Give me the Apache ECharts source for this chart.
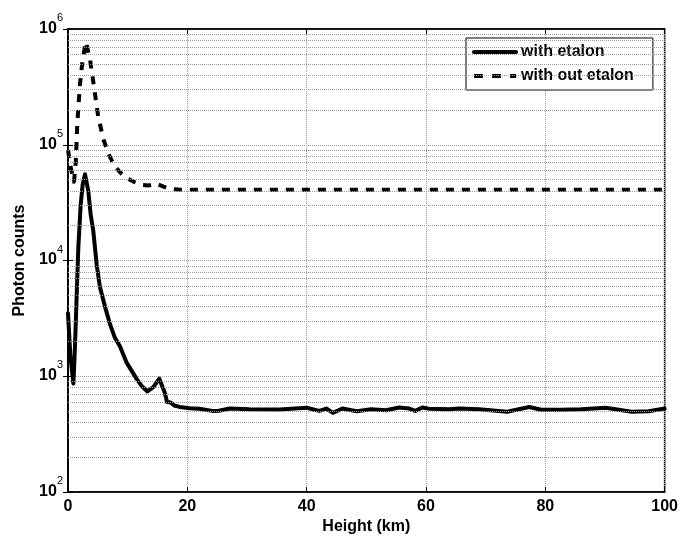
<!DOCTYPE html>
<html>
<head>
<meta charset="utf-8">
<script src="https://cdn.jsdelivr.net/npm/echarts@6/dist/echarts.min.js"></script>
<style>
  html, body { margin: 0; padding: 0; background: #fff; }
  #chart { width: 681px; height: 540px; }
</style>
</head>
<body>
<div id="chart"></div>
<script>
// Photon counts versus height, with and without the etalon in the receiver path.
const withEtalonKm = [0, 0.4, 0.9, 1.17, 1.45, 1.73, 2.12, 2.45, 2.85, 3.4, 3.8, 4.24, 4.8, 5.35, 6.2, 7.0, 7.86, 8.7, 9.8, 11.5, 12.4, 13.3, 14.3, 15.3, 16.2, 16.6, 17.2, 17.8, 18.7, 20.4, 22.0, 24.2, 25.3, 27.1, 30.4, 35.5, 40.0, 42.1, 43.3, 44.4, 46.0, 48.4, 50.8, 53.3, 55.5, 57.2, 58.2, 59.4, 60.5, 63.9, 65.6, 68.9, 73.6, 77.3, 79.3, 82.6, 86.0, 90.1, 94.5, 97.3, 100];
const withEtalonCounts = [3500, 1500, 865, 1820, 4900, 12900, 30000, 45000, 55600, 40000, 25000, 18000, 9300, 5900, 4000, 2870, 2150, 1820, 1320, 950, 820, 740, 805, 955, 730, 600, 595, 560, 544, 530, 525, 503, 505, 527, 520, 518, 535, 503, 527, 484, 527, 500, 520, 510, 538, 527, 503, 538, 525, 520, 527, 520, 495, 544, 515, 515, 520, 535, 495, 500, 527];

const withoutEtalonKm = [0, 0.5, 1.0, 1.3, 1.55, 2.0, 2.45, 3.0, 3.7, 4.35, 5.05, 5.9, 6.75, 7.85, 9.0, 10.0, 11.2, 12.3, 13.5, 14.7, 15.8, 17.0, 18.5, 19.7, 25, 30, 40, 50, 60, 70, 80, 90, 100];
const withoutEtalonCounts = [90000, 62000, 48000, 70000, 150000, 332000, 542000, 776000, 542000, 319000, 177000, 113000, 84000, 65000, 56000, 51000, 47500, 45100, 44500, 46200, 44000, 41700, 41000, 40800, 40800, 40800, 40800, 40800, 40800, 40800, 40800, 40800, 40800];

const seriesNames = ['with etalon', 'with out etalon'];
const minorCountLevels = [200, 300, 400, 500, 600, 700, 800, 900,
  2000, 3000, 4000, 5000, 6000, 7000, 8000, 9000,
  20000, 30000, 40000, 50000, 60000, 70000, 80000, 90000,
  200000, 300000, 400000, 500000, 600000, 700000, 800000, 900000];

const pairs = (xs, ys) => xs.map((x, i) => [x, ys[i]]);

const FONT = '"Liberation Sans", Arial, Helvetica, sans-serif';
const gridLine = { type: 'dotted', color: '#9a9a9a', width: 1 };
const dashPattern = [8, 8];

const chart = echarts.init(document.getElementById('chart'), null, { renderer: 'canvas' });

chart.setOption({
  animation: false,
  backgroundColor: '#fff',
  textStyle: { fontFamily: FONT },
  grid: {
    left: 68, right: 15, top: 29, bottom: 42,
    show: true, borderColor: '#000', borderWidth: 1.5, backgroundColor: 'transparent'
  },
  legend: {
    data: [
      { name: seriesNames[0] },
      { name: seriesNames[1], lineStyle: { type: [9, 9], width: 4 } }
    ],
    orient: 'vertical',
    left: 466, top: 38,
    padding: [6, 19, 6, 6],
    itemGap: 8,
    itemWidth: 42,
    itemHeight: 14,
    backgroundColor: '#fff',
    borderColor: '#000',
    borderWidth: 1,
    borderRadius: 0,
    itemStyle: { opacity: 0 },
    lineStyle: { width: 4 },
    textStyle: { fontFamily: FONT, fontWeight: 'bold', fontSize: 16, color: '#000' }
  },
  xAxis: [{
    type: 'value', min: 0, max: 100, interval: 20,
    name: 'Height (km)', nameLocation: 'middle', nameGap: 25,
    nameTextStyle: { fontFamily: FONT, fontWeight: 'bold', fontSize: 16, color: '#000' },
    axisLine: { show: true, lineStyle: { color: '#000', width: 1.5 } },
    axisTick: { show: true, inside: true, length: 5, lineStyle: { color: '#000' } },
    axisLabel: { margin: 6, fontFamily: FONT, fontWeight: 'bold', fontSize: 16, color: '#000' },
    splitLine: { show: true, lineStyle: gridLine }
  }, {
    type: 'value', min: 0, max: 100, interval: 20, position: 'top',
    axisLine: { show: true, lineStyle: { color: '#000', width: 1.5 } },
    axisTick: { show: true, inside: true, length: 5, lineStyle: { color: '#000' } },
    axisLabel: { show: false }, splitLine: { show: false }
  }],
  yAxis: [{
    type: 'log', logBase: 10, min: 100, max: 1000000,
    name: 'Photon counts', nameLocation: 'middle', nameGap: 40, nameRotate: 90,
    nameTextStyle: { fontFamily: FONT, fontWeight: 'bold', fontSize: 16, color: '#000' },
    axisLine: { show: true, lineStyle: { color: '#000', width: 1.5 } },
    axisTick: { show: true, inside: true, length: 5, lineStyle: { color: '#000' } },
    axisLabel: {
      margin: 5,
      padding: [0, 0, 9, 0],
      formatter: v => '{b|10}{s|' + Math.round(Math.log10(v)) + '}',
      rich: {
        b: { fontFamily: FONT, fontWeight: 'bold', fontSize: 16, color: '#000', lineHeight: 24, verticalAlign: 'bottom' },
        s: { fontFamily: FONT, fontSize: 11, color: '#000', lineHeight: 12, verticalAlign: 'top' }
      }
    },
    splitLine: { show: true, lineStyle: gridLine }
  }, {
    type: 'log', logBase: 10, min: 100, max: 1000000, position: 'right',
    axisLine: { show: true, lineStyle: { color: '#000', width: 1.5 } },
    axisTick: { show: true, inside: true, length: 5, lineStyle: { color: '#000' } },
    axisLabel: { show: false }, splitLine: { show: false }
  }],
  series: [{
    // minor decade grid lines
    name: 'minor grid',
    type: 'line', data: [], z: 1, silent: true,
    markLine: {
      silent: true, symbol: ['none', 'none'], label: { show: false },
      lineStyle: gridLine, animation: false,
      data: minorCountLevels.map(v => ({ yAxis: v }))
    }
  }, {
    name: seriesNames[0],
    type: 'line', z: 3,
    data: pairs(withEtalonKm, withEtalonCounts),
    showSymbol: false, symbol: 'none',
    lineStyle: { color: '#000', width: 4, join: 'round', cap: 'round' },
    itemStyle: { color: '#000' }
  }, {
    name: seriesNames[1],
    type: 'line', z: 3,
    data: pairs(withoutEtalonKm, withoutEtalonCounts),
    showSymbol: false, symbol: 'none',
    lineStyle: { color: '#000', width: 4, type: dashPattern, join: 'round' },
    itemStyle: { color: '#000' }
  }]
});
</script>
</body>
</html>
